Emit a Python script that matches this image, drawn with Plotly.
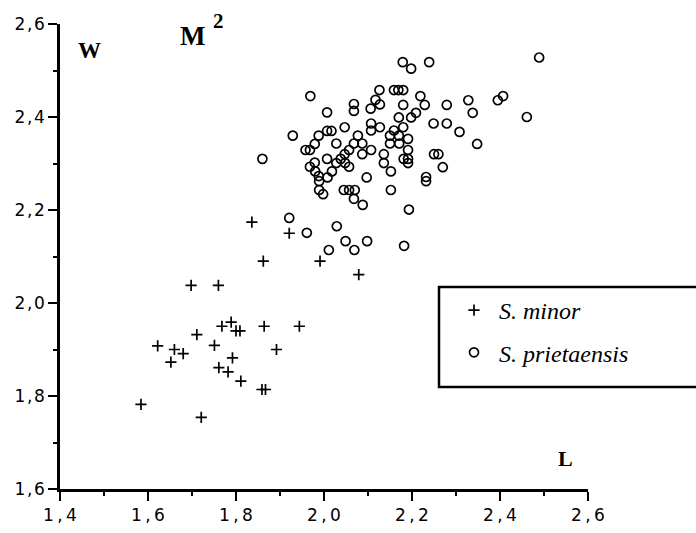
import plotly.graph_objects as go

# S. minor (crosses)
minor_L = [1.836, 1.921, 1.862, 1.991, 2.079, 1.698, 1.760, 1.622, 1.711, 1.751,
           1.768, 1.789, 1.800, 1.809, 1.864, 1.944, 1.660, 1.680, 1.652, 1.892,
           1.761, 1.782, 1.792, 1.811, 1.859, 1.867, 1.584, 1.721]
minor_W = [2.174, 2.150, 2.090, 2.090, 2.061, 2.038, 2.038, 1.908, 1.932, 1.909,
           1.950, 1.959, 1.940, 1.940, 1.950, 1.950, 1.900, 1.891, 1.873, 1.900,
           1.861, 1.852, 1.882, 1.832, 1.814, 1.814, 1.782, 1.754]

# S. prietaensis (circles)
priet_L = [2.179, 2.198, 2.239, 2.489, 1.969, 2.126, 2.159, 2.169, 2.180, 2.219,
           2.117, 2.127, 2.180, 2.229, 2.279, 2.328, 2.395, 2.407, 2.068, 2.068,
           2.106, 2.007, 2.209, 2.198, 2.170, 2.338, 2.461, 2.249, 2.279, 2.107,
           2.127, 2.107, 2.047, 2.180, 2.159, 2.308, 1.929, 1.988, 2.007, 2.017,
           2.077, 2.150, 2.170, 2.191, 1.979, 1.958, 1.968, 2.028, 2.068, 2.087,
           2.150, 2.171, 2.348, 2.057, 2.107, 2.087, 2.136, 2.191, 1.860, 2.007,
           2.038, 2.047, 2.136, 2.181, 2.191, 2.191, 2.250, 2.260, 1.979, 1.968,
           2.028, 2.048, 2.057, 2.018, 1.980, 2.270, 2.152, 1.988, 2.008, 2.097,
           2.232, 2.232, 1.989, 1.989, 1.998, 2.045, 2.057, 2.070, 2.068, 2.088,
           2.152, 2.193, 1.921, 1.961, 2.029, 2.049, 2.098, 2.069, 2.011, 2.182]
priet_W = [2.518, 2.504, 2.518, 2.528, 2.445, 2.458, 2.458, 2.458, 2.458, 2.445,
           2.437, 2.427, 2.426, 2.426, 2.426, 2.436, 2.436, 2.445, 2.428, 2.413,
           2.418, 2.410, 2.409, 2.399, 2.399, 2.409, 2.400, 2.386, 2.386, 2.386,
           2.378, 2.371, 2.378, 2.378, 2.371, 2.368, 2.360, 2.360, 2.370, 2.370,
           2.360, 2.360, 2.360, 2.353, 2.342, 2.329, 2.329, 2.343, 2.343, 2.343,
           2.343, 2.343, 2.342, 2.329, 2.329, 2.320, 2.320, 2.329, 2.310, 2.310,
           2.310, 2.320, 2.301, 2.310, 2.310, 2.301, 2.320, 2.320, 2.302, 2.293,
           2.301, 2.301, 2.293, 2.283, 2.283, 2.292, 2.283, 2.273, 2.270, 2.270,
           2.271, 2.262, 2.262, 2.243, 2.234, 2.243, 2.243, 2.243, 2.224, 2.211,
           2.243, 2.201, 2.183, 2.151, 2.165, 2.133, 2.133, 2.114, 2.114, 2.123]

series_names = ["S. minor", "S. prietaensis"]

x_tickvals = [1.4, 1.6, 1.8, 2.0, 2.2, 2.4, 2.6]
x_ticktext = ["1\u2009,\u20094", "1\u2009,\u20096", "1\u2009,\u20098", "2\u2009,\u20090",
              "2\u2009,\u20092", "2\u2009,\u20094", "2\u2009,\u20096"]
y_tickvals = [1.6, 1.8, 2.0, 2.2, 2.4, 2.6]
y_ticktext = ["1\u200a,\u200a6", "1\u200a,\u200a8", "2\u200a,\u200a0", "2\u200a,\u200a2",
              "2\u200a,\u200a4", "2\u200a,\u200a6"]

W_PX, H_PX = 696, 533
ML, MR, MT, MB = 60, 108, 24, 44
PW, PH = W_PX - ML - MR, H_PX - MT - MB


def px_to_paper(px, py):
    return (px - ML) / PW, (H_PX - MB - py) / PH


fig = go.Figure()
fig.add_trace(go.Scatter(
    x=minor_L, y=minor_W, mode="markers", name=series_names[0], legendgroup="a",
    marker=dict(symbol="cross-thin", size=8, line=dict(color="black", width=1.7)),
))
fig.add_trace(go.Scatter(
    x=priet_L, y=priet_W, mode="markers", name=series_names[1], legendgroup="b",
    marker=dict(symbol="circle-open", size=9, color="black", line=dict(color="black", width=1.7)),
))

axis_common = dict(
    showline=True, linecolor="black", linewidth=2.5,
    ticks="outside", ticklen=9, tickwidth=2, tickcolor="black",
    showgrid=False, zeroline=False, tickmode="array",
    tickfont=dict(family="DejaVu Sans", size=17, color="black"),
    minor=dict(ticks="outside", ticklen=4, tickwidth=1.5, tickcolor="black",
               tickmode="linear", tick0=1.5, dtick=0.2, showgrid=False),
)

fig.update_xaxes(range=[1.4, 2.6], tickvals=x_tickvals, ticktext=x_ticktext, **axis_common)
fig.update_yaxes(range=[1.6, 2.6], tickvals=y_tickvals, ticktext=y_ticktext, **axis_common)

lx, ly = px_to_paper(449, 288)
bx0, by0 = px_to_paper(439, 387)
bx1, by1 = px_to_paper(710, 287)

annotations = []
for txt, (px, py), size in [("W", (89, 50), 23), ("M", (192, 36), 27), ("2", (218, 21), 21), ("L", (565, 458), 22)]:
    ax, ay = px_to_paper(px, py)
    annotations.append(dict(text=txt, x=ax, y=ay, xref="paper", yref="paper", showarrow=False,
                            xanchor="center", yanchor="middle",
                            font=dict(family="Liberation Serif, Times New Roman", size=size, color="black", weight="bold")))

fig.update_layout(
    width=W_PX, height=H_PX,
    margin=dict(l=ML, r=MR, t=MT, b=MB, autoexpand=False),
    paper_bgcolor="white", plot_bgcolor="white",
    showlegend=True,
    legend=dict(x=lx, y=ly, xanchor="left", yanchor="top", borderwidth=0, bgcolor="rgba(0,0,0,0)",
                font=dict(family="Liberation Serif, Times New Roman", size=24, color="black", style="italic"),
                tracegroupgap=8, itemwidth=40),
    shapes=[dict(type="rect", xref="paper", yref="paper", x0=bx0, y0=by0, x1=bx1, y1=by1,
                 line=dict(color="black", width=2.5))],
    annotations=annotations,
)

fig.write_html("out.html")
